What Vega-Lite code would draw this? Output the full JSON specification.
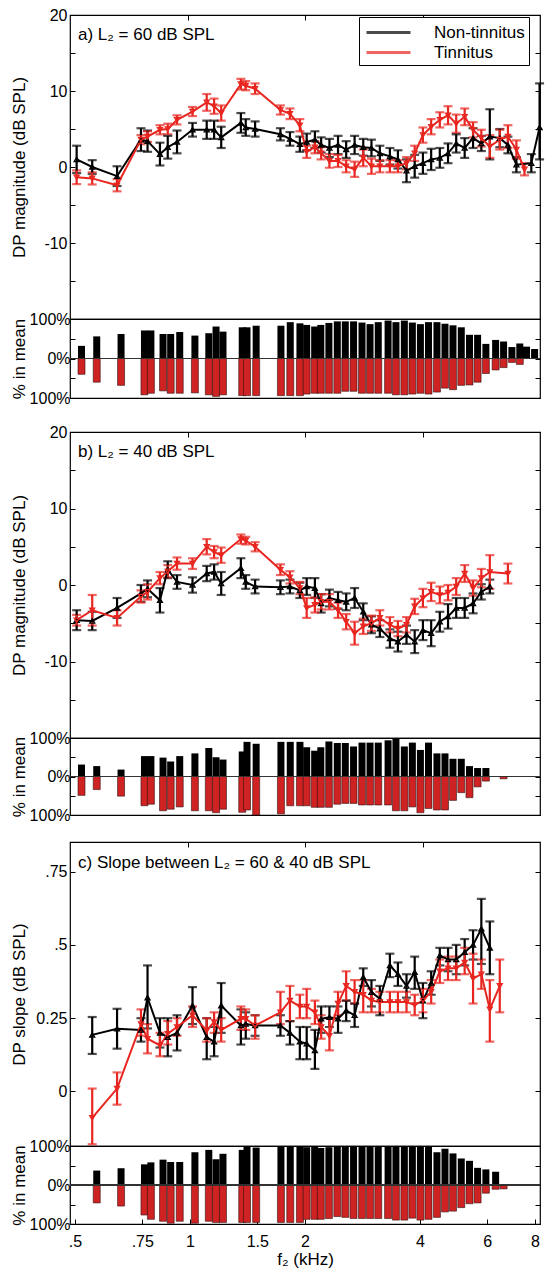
{
"$schema": "https://vega.github.io/schema/vega-lite/v6.json",
"padding": {"left": 9, "top": 6, "right": 0, "bottom": 0},
"spacing": 16,
"resolve": {"scale": {"color": "independent"}, "legend": {"color": "independent"}},
"datasets": {
"main": [
{"p":"a","g":"N","f":0.52,"m":1.0,"lo":-0.8,"hi":2.8},{"p":"a","g":"N","f":0.57,"m":0.0,"lo":-0.9,"hi":0.9},{"p":"a","g":"N","f":0.66,"m":-1.2,"lo":-2.5,"hi":0.1},{"p":"a","g":"N","f":0.76,"m":3.6,"lo":2.1,"hi":5.1},{"p":"a","g":"N","f":0.79,"m":3.4,"lo":2.0,"hi":4.8},{"p":"a","g":"N","f":0.85,"m":1.7,"lo":0.2,"hi":3.2},{"p":"a","g":"N","f":0.89,"m":2.6,"lo":1.1,"hi":4.1},{"p":"a","g":"N","f":0.94,"m":3.3,"lo":1.8,"hi":4.8},{"p":"a","g":"N","f":1.03,"m":4.9,"lo":4.0,"hi":5.8},{"p":"a","g":"N","f":1.12,"m":4.9,"lo":3.7,"hi":6.1},{"p":"a","g":"N","f":1.17,"m":4.9,"lo":3.7,"hi":6.1},{"p":"a","g":"N","f":1.22,"m":3.9,"lo":2.5,"hi":5.3},{"p":"a","g":"N","f":1.37,"m":5.8,"lo":4.5,"hi":7.1},{"p":"a","g":"N","f":1.41,"m":5.2,"lo":4.1,"hi":6.3},{"p":"a","g":"N","f":1.49,"m":5.0,"lo":4.0,"hi":6.0},{"p":"a","g":"N","f":1.73,"m":4.3,"lo":3.5,"hi":5.1},{"p":"a","g":"N","f":1.83,"m":3.7,"lo":2.8,"hi":4.6},{"p":"a","g":"N","f":1.94,"m":3.0,"lo":2.0,"hi":4.0},{"p":"a","g":"N","f":2.02,"m":3.3,"lo":2.2,"hi":4.4},{"p":"a","g":"N","f":2.12,"m":3.6,"lo":2.5,"hi":4.7},{"p":"a","g":"N","f":2.2,"m":2.9,"lo":1.9,"hi":3.9},{"p":"a","g":"N","f":2.31,"m":2.5,"lo":1.3,"hi":3.7},{"p":"a","g":"N","f":2.43,"m":2.9,"lo":1.7,"hi":4.1},{"p":"a","g":"N","f":2.55,"m":2.3,"lo":1.2,"hi":3.4},{"p":"a","g":"N","f":2.68,"m":2.9,"lo":1.7,"hi":4.1},{"p":"a","g":"N","f":2.82,"m":2.6,"lo":1.5,"hi":3.7},{"p":"a","g":"N","f":2.96,"m":2.5,"lo":1.4,"hi":3.6},{"p":"a","g":"N","f":3.11,"m":1.8,"lo":0.8,"hi":2.8},{"p":"a","g":"N","f":3.3,"m":1.4,"lo":0.3,"hi":2.5},{"p":"a","g":"N","f":3.46,"m":1.0,"lo":-0.2,"hi":2.2},{"p":"a","g":"N","f":3.64,"m":-0.5,"lo":-2.0,"hi":1.0},{"p":"a","g":"N","f":3.82,"m":0.1,"lo":-1.4,"hi":1.6},{"p":"a","g":"N","f":4.01,"m":0.5,"lo":-0.9,"hi":1.9},{"p":"a","g":"N","f":4.21,"m":1.0,"lo":-0.4,"hi":2.4},{"p":"a","g":"N","f":4.43,"m":1.2,"lo":-0.1,"hi":2.5},{"p":"a","g":"N","f":4.65,"m":1.8,"lo":0.5,"hi":3.1},{"p":"a","g":"N","f":4.88,"m":3.1,"lo":1.9,"hi":4.3},{"p":"a","g":"N","f":5.13,"m":2.5,"lo":1.2,"hi":3.8},{"p":"a","g":"N","f":5.39,"m":3.8,"lo":2.5,"hi":5.1},{"p":"a","g":"N","f":5.66,"m":3.1,"lo":2.1,"hi":4.1},{"p":"a","g":"N","f":5.95,"m":4.0,"lo":1.0,"hi":7.6},{"p":"a","g":"N","f":6.31,"m":3.8,"lo":2.6,"hi":5.0},{"p":"a","g":"N","f":6.62,"m":2.9,"lo":1.8,"hi":4.0},{"p":"a","g":"N","f":6.96,"m":0.3,"lo":-0.7,"hi":1.3},{"p":"a","g":"N","f":7.6,"m":0.5,"lo":-0.7,"hi":1.7},{"p":"a","g":"N","f":7.98,"m":5.2,"lo":1.0,"hi":11.0},
{"p":"a","g":"T","f":0.52,"m":-1.35,"lo":-2.25,"hi":-0.45},{"p":"a","g":"T","f":0.57,"m":-1.5,"lo":-2.3,"hi":-0.7},{"p":"a","g":"T","f":0.66,"m":-2.4,"lo":-3.2,"hi":-1.6},{"p":"a","g":"T","f":0.76,"m":3.6,"lo":3.0,"hi":4.2},{"p":"a","g":"T","f":0.79,"m":4.0,"lo":3.3,"hi":4.7},{"p":"a","g":"T","f":0.85,"m":4.9,"lo":4.3,"hi":5.5},{"p":"a","g":"T","f":0.89,"m":5.0,"lo":4.3,"hi":5.7},{"p":"a","g":"T","f":0.94,"m":6.2,"lo":5.6,"hi":6.8},{"p":"a","g":"T","f":1.03,"m":7.3,"lo":6.7,"hi":7.9},{"p":"a","g":"T","f":1.12,"m":8.5,"lo":7.4,"hi":9.6},{"p":"a","g":"T","f":1.17,"m":8.0,"lo":7.0,"hi":9.0},{"p":"a","g":"T","f":1.22,"m":7.1,"lo":6.1,"hi":8.1},{"p":"a","g":"T","f":1.37,"m":10.9,"lo":10.2,"hi":11.6},{"p":"a","g":"T","f":1.41,"m":10.7,"lo":10.1,"hi":11.3},{"p":"a","g":"T","f":1.49,"m":10.3,"lo":9.6,"hi":11.0},{"p":"a","g":"T","f":1.73,"m":7.5,"lo":6.9,"hi":8.1},{"p":"a","g":"T","f":1.83,"m":7.0,"lo":6.3,"hi":7.7},{"p":"a","g":"T","f":1.94,"m":5.5,"lo":4.7,"hi":6.3},{"p":"a","g":"T","f":2.02,"m":2.0,"lo":1.2,"hi":2.8},{"p":"a","g":"T","f":2.12,"m":2.6,"lo":1.8,"hi":3.4},{"p":"a","g":"T","f":2.2,"m":1.8,"lo":1.0,"hi":2.6},{"p":"a","g":"T","f":2.31,"m":0.8,"lo":-0.1,"hi":1.7},{"p":"a","g":"T","f":2.43,"m":0.8,"lo":0.0,"hi":1.6},{"p":"a","g":"T","f":2.55,"m":0.1,"lo":-0.7,"hi":0.9},{"p":"a","g":"T","f":2.68,"m":-0.3,"lo":-1.3,"hi":0.7},{"p":"a","g":"T","f":2.82,"m":1.2,"lo":0.1,"hi":2.3},{"p":"a","g":"T","f":2.96,"m":0.1,"lo":-0.9,"hi":1.1},{"p":"a","g":"T","f":3.11,"m":0.1,"lo":-0.7,"hi":0.9},{"p":"a","g":"T","f":3.3,"m":0.1,"lo":-0.7,"hi":0.9},{"p":"a","g":"T","f":3.46,"m":0.1,"lo":-0.7,"hi":0.9},{"p":"a","g":"T","f":3.64,"m":0.5,"lo":-0.3,"hi":1.3},{"p":"a","g":"T","f":3.82,"m":1.8,"lo":0.8,"hi":2.8},{"p":"a","g":"T","f":4.01,"m":4.2,"lo":3.2,"hi":5.2},{"p":"a","g":"T","f":4.21,"m":5.3,"lo":4.3,"hi":6.3},{"p":"a","g":"T","f":4.43,"m":6.2,"lo":5.2,"hi":7.2},{"p":"a","g":"T","f":4.65,"m":6.8,"lo":5.6,"hi":8.0},{"p":"a","g":"T","f":4.88,"m":5.7,"lo":4.5,"hi":6.9},{"p":"a","g":"T","f":5.13,"m":6.6,"lo":5.5,"hi":7.7},{"p":"a","g":"T","f":5.39,"m":4.9,"lo":3.9,"hi":5.9},{"p":"a","g":"T","f":5.66,"m":3.8,"lo":2.7,"hi":4.9},{"p":"a","g":"T","f":5.95,"m":2.7,"lo":1.2,"hi":4.2},{"p":"a","g":"T","f":6.31,"m":3.6,"lo":2.3,"hi":4.9},{"p":"a","g":"T","f":6.62,"m":4.0,"lo":2.5,"hi":5.5},{"p":"a","g":"T","f":6.96,"m":2.3,"lo":1.1,"hi":3.5},{"p":"a","g":"T","f":7.3,"m":-0.3,"lo":-1.1,"hi":0.5},
{"p":"b","g":"N","f":0.52,"m":-4.6,"lo":-5.9,"hi":-3.3},{"p":"b","g":"N","f":0.57,"m":-4.7,"lo":-5.9,"hi":-3.5},{"p":"b","g":"N","f":0.66,"m":-3.0,"lo":-4.3,"hi":-1.7},{"p":"b","g":"N","f":0.76,"m":-1.1,"lo":-2.2,"hi":0.0},{"p":"b","g":"N","f":0.79,"m":-0.5,"lo":-1.6,"hi":0.6},{"p":"b","g":"N","f":0.85,"m":-2.0,"lo":-3.6,"hi":-0.4},{"p":"b","g":"N","f":0.89,"m":2.0,"lo":0.9,"hi":3.1},{"p":"b","g":"N","f":0.94,"m":0.4,"lo":-0.5,"hi":1.3},{"p":"b","g":"N","f":1.03,"m":0.0,"lo":-1.0,"hi":1.0},{"p":"b","g":"N","f":1.12,"m":1.5,"lo":0.5,"hi":2.5},{"p":"b","g":"N","f":1.17,"m":1.7,"lo":0.7,"hi":2.7},{"p":"b","g":"N","f":1.22,"m":0.2,"lo":-1.3,"hi":1.7},{"p":"b","g":"N","f":1.37,"m":2.2,"lo":0.9,"hi":3.5},{"p":"b","g":"N","f":1.41,"m":0.4,"lo":-0.5,"hi":1.3},{"p":"b","g":"N","f":1.49,"m":-0.2,"lo":-1.1,"hi":0.7},{"p":"b","g":"N","f":1.73,"m":-0.3,"lo":-1.2,"hi":0.6},{"p":"b","g":"N","f":1.83,"m":-0.2,"lo":-1.1,"hi":0.7},{"p":"b","g":"N","f":1.94,"m":-0.7,"lo":-1.7,"hi":0.3},{"p":"b","g":"N","f":2.02,"m":-0.2,"lo":-1.3,"hi":0.9},{"p":"b","g":"N","f":2.12,"m":-0.4,"lo":-1.7,"hi":0.9},{"p":"b","g":"N","f":2.2,"m":-2.4,"lo":-3.6,"hi":-1.2},{"p":"b","g":"N","f":2.31,"m":-1.7,"lo":-2.8,"hi":-0.6},{"p":"b","g":"N","f":2.43,"m":-2.0,"lo":-3.1,"hi":-0.9},{"p":"b","g":"N","f":2.55,"m":-2.2,"lo":-3.3,"hi":-1.1},{"p":"b","g":"N","f":2.68,"m":-1.7,"lo":-3.0,"hi":-0.4},{"p":"b","g":"N","f":2.82,"m":-3.5,"lo":-4.6,"hi":-2.4},{"p":"b","g":"N","f":2.96,"m":-5.2,"lo":-6.3,"hi":-4.1},{"p":"b","g":"N","f":3.11,"m":-5.7,"lo":-6.8,"hi":-4.6},{"p":"b","g":"N","f":3.3,"m":-7.0,"lo":-8.2,"hi":-5.8},{"p":"b","g":"N","f":3.46,"m":-7.4,"lo":-8.7,"hi":-6.1},{"p":"b","g":"N","f":3.64,"m":-6.5,"lo":-7.7,"hi":-5.3},{"p":"b","g":"N","f":3.82,"m":-7.4,"lo":-8.9,"hi":-5.9},{"p":"b","g":"N","f":4.01,"m":-5.9,"lo":-7.2,"hi":-4.6},{"p":"b","g":"N","f":4.21,"m":-6.3,"lo":-8.0,"hi":-4.6},{"p":"b","g":"N","f":4.43,"m":-4.8,"lo":-6.1,"hi":-3.5},{"p":"b","g":"N","f":4.65,"m":-4.1,"lo":-5.7,"hi":-2.5},{"p":"b","g":"N","f":4.88,"m":-3.0,"lo":-4.3,"hi":-1.7},{"p":"b","g":"N","f":5.13,"m":-3.0,"lo":-4.3,"hi":-1.7},{"p":"b","g":"N","f":5.39,"m":-2.4,"lo":-3.7,"hi":-1.1},{"p":"b","g":"N","f":5.66,"m":-0.9,"lo":-1.9,"hi":0.1},{"p":"b","g":"N","f":5.95,"m":-0.2,"lo":-1.1,"hi":0.7},
{"p":"b","g":"T","f":0.52,"m":-4.6,"lo":-5.3,"hi":-3.9},{"p":"b","g":"T","f":0.57,"m":-3.3,"lo":-5.3,"hi":-1.3},{"p":"b","g":"T","f":0.66,"m":-4.3,"lo":-5.3,"hi":-3.3},{"p":"b","g":"T","f":0.76,"m":-1.5,"lo":-2.3,"hi":-0.7},{"p":"b","g":"T","f":0.79,"m":-0.9,"lo":-1.9,"hi":0.1},{"p":"b","g":"T","f":0.85,"m":0.9,"lo":0.1,"hi":1.7},{"p":"b","g":"T","f":0.89,"m":1.8,"lo":1.0,"hi":2.6},{"p":"b","g":"T","f":0.94,"m":2.8,"lo":2.0,"hi":3.6},{"p":"b","g":"T","f":1.03,"m":2.8,"lo":2.1,"hi":3.5},{"p":"b","g":"T","f":1.12,"m":5.0,"lo":4.0,"hi":6.0},{"p":"b","g":"T","f":1.17,"m":4.3,"lo":3.5,"hi":5.1},{"p":"b","g":"T","f":1.22,"m":3.9,"lo":2.9,"hi":4.9},{"p":"b","g":"T","f":1.37,"m":6.0,"lo":5.4,"hi":6.6},{"p":"b","g":"T","f":1.41,"m":5.8,"lo":5.3,"hi":6.3},{"p":"b","g":"T","f":1.49,"m":5.0,"lo":4.4,"hi":5.6},{"p":"b","g":"T","f":1.73,"m":2.0,"lo":1.3,"hi":2.7},{"p":"b","g":"T","f":1.83,"m":1.0,"lo":0.2,"hi":1.8},{"p":"b","g":"T","f":1.94,"m":-0.4,"lo":-1.2,"hi":0.4},{"p":"b","g":"T","f":2.02,"m":-3.0,"lo":-4.3,"hi":-1.7},{"p":"b","g":"T","f":2.12,"m":-2.6,"lo":-3.6,"hi":-1.6},{"p":"b","g":"T","f":2.2,"m":-2.2,"lo":-3.2,"hi":-1.2},{"p":"b","g":"T","f":2.31,"m":-2.2,"lo":-3.2,"hi":-1.2},{"p":"b","g":"T","f":2.43,"m":-3.3,"lo":-4.3,"hi":-2.3},{"p":"b","g":"T","f":2.55,"m":-4.8,"lo":-5.8,"hi":-3.8},{"p":"b","g":"T","f":2.68,"m":-6.3,"lo":-7.8,"hi":-4.8},{"p":"b","g":"T","f":2.82,"m":-5.4,"lo":-6.4,"hi":-4.4},{"p":"b","g":"T","f":2.96,"m":-5.0,"lo":-6.0,"hi":-4.0},{"p":"b","g":"T","f":3.11,"m":-4.3,"lo":-5.3,"hi":-3.3},{"p":"b","g":"T","f":3.3,"m":-5.2,"lo":-6.2,"hi":-4.2},{"p":"b","g":"T","f":3.46,"m":-5.7,"lo":-6.7,"hi":-4.7},{"p":"b","g":"T","f":3.64,"m":-5.2,"lo":-6.2,"hi":-4.2},{"p":"b","g":"T","f":3.82,"m":-2.8,"lo":-3.8,"hi":-1.8},{"p":"b","g":"T","f":4.01,"m":-1.7,"lo":-2.9,"hi":-0.5},{"p":"b","g":"T","f":4.21,"m":-0.9,"lo":-2.1,"hi":0.3},{"p":"b","g":"T","f":4.43,"m":-1.3,"lo":-2.4,"hi":-0.2},{"p":"b","g":"T","f":4.65,"m":-1.0,"lo":-2.0,"hi":0.0},{"p":"b","g":"T","f":4.88,"m":-0.2,"lo":-1.3,"hi":0.9},{"p":"b","g":"T","f":5.13,"m":1.5,"lo":0.4,"hi":2.6},{"p":"b","g":"T","f":5.39,"m":-0.4,"lo":-1.4,"hi":0.6},{"p":"b","g":"T","f":5.66,"m":0.9,"lo":-0.3,"hi":2.1},{"p":"b","g":"T","f":5.95,"m":1.7,"lo":-0.5,"hi":3.9},{"p":"b","g":"T","f":6.62,"m":1.5,"lo":0.2,"hi":2.8},
{"p":"c","g":"N","f":0.57,"m":0.193,"lo":0.128,"hi":0.254},{"p":"c","g":"N","f":0.66,"m":0.214,"lo":0.146,"hi":0.282},{"p":"c","g":"N","f":0.76,"m":0.21,"lo":0.17,"hi":0.25},{"p":"c","g":"N","f":0.79,"m":0.32,"lo":0.215,"hi":0.43},{"p":"c","g":"N","f":0.85,"m":0.2,"lo":0.15,"hi":0.25},{"p":"c","g":"N","f":0.89,"m":0.185,"lo":0.12,"hi":0.25},{"p":"c","g":"N","f":0.94,"m":0.2,"lo":0.14,"hi":0.26},{"p":"c","g":"N","f":1.03,"m":0.293,"lo":0.23,"hi":0.356},{"p":"c","g":"N","f":1.12,"m":0.185,"lo":0.11,"hi":0.25},{"p":"c","g":"N","f":1.17,"m":0.17,"lo":0.12,"hi":0.22},{"p":"c","g":"N","f":1.22,"m":0.293,"lo":0.2,"hi":0.37},{"p":"c","g":"N","f":1.37,"m":0.225,"lo":0.16,"hi":0.28},{"p":"c","g":"N","f":1.41,"m":0.23,"lo":0.18,"hi":0.27},{"p":"c","g":"N","f":1.49,"m":0.225,"lo":0.19,"hi":0.26},{"p":"c","g":"N","f":1.73,"m":0.225,"lo":0.19,"hi":0.26},{"p":"c","g":"N","f":1.83,"m":0.2,"lo":0.16,"hi":0.24},{"p":"c","g":"N","f":1.94,"m":0.17,"lo":0.11,"hi":0.22},{"p":"c","g":"N","f":2.02,"m":0.163,"lo":0.11,"hi":0.22},{"p":"c","g":"N","f":2.12,"m":0.14,"lo":0.077,"hi":0.21},{"p":"c","g":"N","f":2.2,"m":0.248,"lo":0.2,"hi":0.29},{"p":"c","g":"N","f":2.31,"m":0.253,"lo":0.22,"hi":0.29},{"p":"c","g":"N","f":2.43,"m":0.248,"lo":0.2,"hi":0.29},{"p":"c","g":"N","f":2.55,"m":0.276,"lo":0.24,"hi":0.31},{"p":"c","g":"N","f":2.68,"m":0.26,"lo":0.22,"hi":0.3},{"p":"c","g":"N","f":2.82,"m":0.39,"lo":0.36,"hi":0.42},{"p":"c","g":"N","f":2.96,"m":0.339,"lo":0.29,"hi":0.38},{"p":"c","g":"N","f":3.11,"m":0.316,"lo":0.26,"hi":0.36},{"p":"c","g":"N","f":3.3,"m":0.43,"lo":0.39,"hi":0.47},{"p":"c","g":"N","f":3.46,"m":0.4,"lo":0.36,"hi":0.44},{"p":"c","g":"N","f":3.64,"m":0.36,"lo":0.32,"hi":0.4},{"p":"c","g":"N","f":3.82,"m":0.407,"lo":0.35,"hi":0.46},{"p":"c","g":"N","f":4.01,"m":0.31,"lo":0.25,"hi":0.37},{"p":"c","g":"N","f":4.21,"m":0.37,"lo":0.33,"hi":0.41},{"p":"c","g":"N","f":4.43,"m":0.464,"lo":0.43,"hi":0.49},{"p":"c","g":"N","f":4.65,"m":0.45,"lo":0.41,"hi":0.49},{"p":"c","g":"N","f":4.88,"m":0.45,"lo":0.4,"hi":0.5},{"p":"c","g":"N","f":5.13,"m":0.475,"lo":0.43,"hi":0.52},{"p":"c","g":"N","f":5.39,"m":0.5,"lo":0.45,"hi":0.55},{"p":"c","g":"N","f":5.66,"m":0.555,"lo":0.435,"hi":0.657},{"p":"c","g":"N","f":5.95,"m":0.49,"lo":0.4,"hi":0.58},
{"p":"c","g":"T","f":0.57,"m":-0.09,"lo":-0.18,"hi":0.01},{"p":"c","g":"T","f":0.66,"m":0.01,"lo":-0.045,"hi":0.065},{"p":"c","g":"T","f":0.76,"m":0.23,"lo":0.19,"hi":0.28},{"p":"c","g":"T","f":0.79,"m":0.18,"lo":0.13,"hi":0.23},{"p":"c","g":"T","f":0.85,"m":0.157,"lo":0.12,"hi":0.2},{"p":"c","g":"T","f":0.89,"m":0.197,"lo":0.16,"hi":0.24},{"p":"c","g":"T","f":0.94,"m":0.22,"lo":0.19,"hi":0.25},{"p":"c","g":"T","f":1.03,"m":0.26,"lo":0.22,"hi":0.29},{"p":"c","g":"T","f":1.12,"m":0.208,"lo":0.17,"hi":0.25},{"p":"c","g":"T","f":1.17,"m":0.237,"lo":0.2,"hi":0.27},{"p":"c","g":"T","f":1.22,"m":0.21,"lo":0.17,"hi":0.25},{"p":"c","g":"T","f":1.37,"m":0.248,"lo":0.21,"hi":0.29},{"p":"c","g":"T","f":1.41,"m":0.248,"lo":0.21,"hi":0.28},{"p":"c","g":"T","f":1.49,"m":0.225,"lo":0.18,"hi":0.26},{"p":"c","g":"T","f":1.73,"m":0.27,"lo":0.23,"hi":0.34},{"p":"c","g":"T","f":1.83,"m":0.31,"lo":0.24,"hi":0.36},{"p":"c","g":"T","f":1.94,"m":0.29,"lo":0.25,"hi":0.33},{"p":"c","g":"T","f":2.02,"m":0.29,"lo":0.25,"hi":0.35},{"p":"c","g":"T","f":2.12,"m":0.27,"lo":0.23,"hi":0.31},{"p":"c","g":"T","f":2.2,"m":0.22,"lo":0.18,"hi":0.26},{"p":"c","g":"T","f":2.31,"m":0.19,"lo":0.14,"hi":0.25},{"p":"c","g":"T","f":2.43,"m":0.3,"lo":0.26,"hi":0.34},{"p":"c","g":"T","f":2.55,"m":0.36,"lo":0.31,"hi":0.41},{"p":"c","g":"T","f":2.68,"m":0.34,"lo":0.3,"hi":0.38},{"p":"c","g":"T","f":2.82,"m":0.33,"lo":0.27,"hi":0.38},{"p":"c","g":"T","f":2.96,"m":0.31,"lo":0.27,"hi":0.35},{"p":"c","g":"T","f":3.11,"m":0.305,"lo":0.27,"hi":0.34},{"p":"c","g":"T","f":3.3,"m":0.305,"lo":0.27,"hi":0.34},{"p":"c","g":"T","f":3.46,"m":0.305,"lo":0.27,"hi":0.34},{"p":"c","g":"T","f":3.64,"m":0.305,"lo":0.27,"hi":0.34},{"p":"c","g":"T","f":3.82,"m":0.295,"lo":0.26,"hi":0.33},{"p":"c","g":"T","f":4.01,"m":0.31,"lo":0.27,"hi":0.35},{"p":"c","g":"T","f":4.21,"m":0.34,"lo":0.3,"hi":0.38},{"p":"c","g":"T","f":4.43,"m":0.41,"lo":0.37,"hi":0.45},{"p":"c","g":"T","f":4.65,"m":0.42,"lo":0.38,"hi":0.46},{"p":"c","g":"T","f":4.88,"m":0.42,"lo":0.38,"hi":0.46},{"p":"c","g":"T","f":5.13,"m":0.44,"lo":0.4,"hi":0.49},{"p":"c","g":"T","f":5.39,"m":0.385,"lo":0.3,"hi":0.47},{"p":"c","g":"T","f":5.66,"m":0.4,"lo":0.35,"hi":0.45},{"p":"c","g":"T","f":5.95,"m":0.28,"lo":0.17,"hi":0.38},{"p":"c","g":"T","f":6.31,"m":0.36,"lo":0.27,"hi":0.45}
],
"bars": [
{"p":"a","g":"N","f":0.52,"v":32},{"p":"a","g":"N","f":0.57,"v":56},{"p":"a","g":"N","f":0.66,"v":62},{"p":"a","g":"N","f":0.76,"v":71},{"p":"a","g":"N","f":0.79,"v":71},{"p":"a","g":"N","f":0.85,"v":62},{"p":"a","g":"N","f":0.89,"v":62},{"p":"a","g":"N","f":0.94,"v":67},{"p":"a","g":"N","f":1.03,"v":58},{"p":"a","g":"N","f":1.12,"v":64},{"p":"a","g":"N","f":1.17,"v":81},{"p":"a","g":"N","f":1.22,"v":68},{"p":"a","g":"N","f":1.37,"v":79},{"p":"a","g":"N","f":1.41,"v":79},{"p":"a","g":"N","f":1.49,"v":83},{"p":"a","g":"N","f":1.73,"v":83},{"p":"a","g":"N","f":1.83,"v":92},{"p":"a","g":"N","f":1.94,"v":89},{"p":"a","g":"N","f":2.02,"v":85},{"p":"a","g":"N","f":2.12,"v":81},{"p":"a","g":"N","f":2.2,"v":85},{"p":"a","g":"N","f":2.31,"v":90},{"p":"a","g":"N","f":2.43,"v":94},{"p":"a","g":"N","f":2.55,"v":94},{"p":"a","g":"N","f":2.68,"v":94},{"p":"a","g":"N","f":2.82,"v":91},{"p":"a","g":"N","f":2.96,"v":87},{"p":"a","g":"N","f":3.11,"v":92},{"p":"a","g":"N","f":3.3,"v":96},{"p":"a","g":"N","f":3.46,"v":92},{"p":"a","g":"N","f":3.64,"v":96},{"p":"a","g":"N","f":3.82,"v":91},{"p":"a","g":"N","f":4.01,"v":87},{"p":"a","g":"N","f":4.21,"v":92},{"p":"a","g":"N","f":4.43,"v":92},{"p":"a","g":"N","f":4.65,"v":88},{"p":"a","g":"N","f":4.88,"v":84},{"p":"a","g":"N","f":5.13,"v":79},{"p":"a","g":"N","f":5.39,"v":60},{"p":"a","g":"N","f":5.66,"v":60},{"p":"a","g":"N","f":5.95,"v":37},{"p":"a","g":"N","f":6.31,"v":47},{"p":"a","g":"N","f":6.62,"v":43},{"p":"a","g":"N","f":6.96,"v":29},{"p":"a","g":"N","f":7.3,"v":38},{"p":"a","g":"N","f":7.6,"v":30},{"p":"a","g":"N","f":7.98,"v":24},
{"p":"a","g":"T","f":0.52,"v":-40},{"p":"a","g":"T","f":0.57,"v":-60},{"p":"a","g":"T","f":0.66,"v":-68},{"p":"a","g":"T","f":0.76,"v":-92},{"p":"a","g":"T","f":0.79,"v":-88},{"p":"a","g":"T","f":0.85,"v":-82},{"p":"a","g":"T","f":0.89,"v":-88},{"p":"a","g":"T","f":0.94,"v":-88},{"p":"a","g":"T","f":1.03,"v":-87},{"p":"a","g":"T","f":1.12,"v":-92},{"p":"a","g":"T","f":1.17,"v":-96},{"p":"a","g":"T","f":1.22,"v":-92},{"p":"a","g":"T","f":1.37,"v":-94},{"p":"a","g":"T","f":1.41,"v":-94},{"p":"a","g":"T","f":1.49,"v":-94},{"p":"a","g":"T","f":1.73,"v":-94},{"p":"a","g":"T","f":1.83,"v":-94},{"p":"a","g":"T","f":1.94,"v":-94},{"p":"a","g":"T","f":2.02,"v":-90},{"p":"a","g":"T","f":2.12,"v":-88},{"p":"a","g":"T","f":2.2,"v":-88},{"p":"a","g":"T","f":2.31,"v":-88},{"p":"a","g":"T","f":2.43,"v":-88},{"p":"a","g":"T","f":2.55,"v":-83},{"p":"a","g":"T","f":2.68,"v":-83},{"p":"a","g":"T","f":2.82,"v":-88},{"p":"a","g":"T","f":2.96,"v":-88},{"p":"a","g":"T","f":3.11,"v":-88},{"p":"a","g":"T","f":3.3,"v":-88},{"p":"a","g":"T","f":3.46,"v":-92},{"p":"a","g":"T","f":3.64,"v":-92},{"p":"a","g":"T","f":3.82,"v":-90},{"p":"a","g":"T","f":4.01,"v":-88},{"p":"a","g":"T","f":4.21,"v":-90},{"p":"a","g":"T","f":4.43,"v":-85},{"p":"a","g":"T","f":4.65,"v":-75},{"p":"a","g":"T","f":4.88,"v":-79},{"p":"a","g":"T","f":5.13,"v":-68},{"p":"a","g":"T","f":5.39,"v":-67},{"p":"a","g":"T","f":5.66,"v":-60},{"p":"a","g":"T","f":5.95,"v":-38},{"p":"a","g":"T","f":6.31,"v":-29},{"p":"a","g":"T","f":6.62,"v":-23},{"p":"a","g":"T","f":6.96,"v":-10},{"p":"a","g":"T","f":7.3,"v":-15},
{"p":"b","g":"N","f":0.52,"v":31},{"p":"b","g":"N","f":0.57,"v":27},{"p":"b","g":"N","f":0.66,"v":18},{"p":"b","g":"N","f":0.76,"v":53},{"p":"b","g":"N","f":0.79,"v":53},{"p":"b","g":"N","f":0.85,"v":49},{"p":"b","g":"N","f":0.89,"v":39},{"p":"b","g":"N","f":0.94,"v":53},{"p":"b","g":"N","f":1.03,"v":60},{"p":"b","g":"N","f":1.12,"v":74},{"p":"b","g":"N","f":1.17,"v":50},{"p":"b","g":"N","f":1.22,"v":44},{"p":"b","g":"N","f":1.37,"v":65},{"p":"b","g":"N","f":1.41,"v":90},{"p":"b","g":"N","f":1.49,"v":85},{"p":"b","g":"N","f":1.73,"v":90},{"p":"b","g":"N","f":1.83,"v":90},{"p":"b","g":"N","f":1.94,"v":90},{"p":"b","g":"N","f":2.02,"v":76},{"p":"b","g":"N","f":2.12,"v":67},{"p":"b","g":"N","f":2.2,"v":76},{"p":"b","g":"N","f":2.31,"v":91},{"p":"b","g":"N","f":2.43,"v":87},{"p":"b","g":"N","f":2.55,"v":87},{"p":"b","g":"N","f":2.68,"v":78},{"p":"b","g":"N","f":2.82,"v":88},{"p":"b","g":"N","f":2.96,"v":88},{"p":"b","g":"N","f":3.11,"v":88},{"p":"b","g":"N","f":3.3,"v":94},{"p":"b","g":"N","f":3.46,"v":98},{"p":"b","g":"N","f":3.64,"v":78},{"p":"b","g":"N","f":3.82,"v":88},{"p":"b","g":"N","f":4.01,"v":69},{"p":"b","g":"N","f":4.21,"v":88},{"p":"b","g":"N","f":4.43,"v":60},{"p":"b","g":"N","f":4.65,"v":60},{"p":"b","g":"N","f":4.88,"v":46},{"p":"b","g":"N","f":5.13,"v":46},{"p":"b","g":"N","f":5.39,"v":27},{"p":"b","g":"N","f":5.66,"v":22},{"p":"b","g":"N","f":5.95,"v":22},
{"p":"b","g":"T","f":0.52,"v":-49},{"p":"b","g":"T","f":0.57,"v":-34},{"p":"b","g":"T","f":0.66,"v":-51},{"p":"b","g":"T","f":0.76,"v":-76},{"p":"b","g":"T","f":0.79,"v":-72},{"p":"b","g":"T","f":0.85,"v":-89},{"p":"b","g":"T","f":0.89,"v":-85},{"p":"b","g":"T","f":0.94,"v":-79},{"p":"b","g":"T","f":1.03,"v":-89},{"p":"b","g":"T","f":1.12,"v":-89},{"p":"b","g":"T","f":1.17,"v":-94},{"p":"b","g":"T","f":1.22,"v":-85},{"p":"b","g":"T","f":1.37,"v":-93},{"p":"b","g":"T","f":1.41,"v":-87},{"p":"b","g":"T","f":1.49,"v":-100},{"p":"b","g":"T","f":1.73,"v":-97},{"p":"b","g":"T","f":1.83,"v":-76},{"p":"b","g":"T","f":1.94,"v":-76},{"p":"b","g":"T","f":2.02,"v":-76},{"p":"b","g":"T","f":2.12,"v":-80},{"p":"b","g":"T","f":2.2,"v":-80},{"p":"b","g":"T","f":2.31,"v":-80},{"p":"b","g":"T","f":2.43,"v":-72},{"p":"b","g":"T","f":2.55,"v":-70},{"p":"b","g":"T","f":2.68,"v":-70},{"p":"b","g":"T","f":2.82,"v":-74},{"p":"b","g":"T","f":2.96,"v":-74},{"p":"b","g":"T","f":3.11,"v":-74},{"p":"b","g":"T","f":3.3,"v":-74},{"p":"b","g":"T","f":3.46,"v":-89},{"p":"b","g":"T","f":3.64,"v":-89},{"p":"b","g":"T","f":3.82,"v":-79},{"p":"b","g":"T","f":4.01,"v":-94},{"p":"b","g":"T","f":4.21,"v":-83},{"p":"b","g":"T","f":4.43,"v":-87},{"p":"b","g":"T","f":4.65,"v":-87},{"p":"b","g":"T","f":4.88,"v":-62},{"p":"b","g":"T","f":5.13,"v":-42},{"p":"b","g":"T","f":5.39,"v":-55},{"p":"b","g":"T","f":5.66,"v":-27},{"p":"b","g":"T","f":5.95,"v":-12},{"p":"b","g":"T","f":6.62,"v":-6},
{"p":"c","g":"N","f":0.57,"v":37},{"p":"c","g":"N","f":0.66,"v":43},{"p":"c","g":"N","f":0.76,"v":53},{"p":"c","g":"N","f":0.79,"v":58},{"p":"c","g":"N","f":0.85,"v":65},{"p":"c","g":"N","f":0.89,"v":59},{"p":"c","g":"N","f":0.94,"v":59},{"p":"c","g":"N","f":1.03,"v":84},{"p":"c","g":"N","f":1.12,"v":90},{"p":"c","g":"N","f":1.17,"v":66},{"p":"c","g":"N","f":1.22,"v":80},{"p":"c","g":"N","f":1.37,"v":90},{"p":"c","g":"N","f":1.41,"v":99},{"p":"c","g":"N","f":1.49,"v":96},{"p":"c","g":"N","f":1.73,"v":100},{"p":"c","g":"N","f":1.83,"v":100},{"p":"c","g":"N","f":1.94,"v":100},{"p":"c","g":"N","f":2.02,"v":97},{"p":"c","g":"N","f":2.12,"v":100},{"p":"c","g":"N","f":2.2,"v":95},{"p":"c","g":"N","f":2.31,"v":97},{"p":"c","g":"N","f":2.43,"v":100},{"p":"c","g":"N","f":2.55,"v":100},{"p":"c","g":"N","f":2.68,"v":100},{"p":"c","g":"N","f":2.82,"v":100},{"p":"c","g":"N","f":2.96,"v":100},{"p":"c","g":"N","f":3.11,"v":100},{"p":"c","g":"N","f":3.3,"v":100},{"p":"c","g":"N","f":3.46,"v":100},{"p":"c","g":"N","f":3.64,"v":100},{"p":"c","g":"N","f":3.82,"v":100},{"p":"c","g":"N","f":4.01,"v":100},{"p":"c","g":"N","f":4.21,"v":99},{"p":"c","g":"N","f":4.43,"v":84},{"p":"c","g":"N","f":4.65,"v":93},{"p":"c","g":"N","f":4.88,"v":81},{"p":"c","g":"N","f":5.13,"v":68},{"p":"c","g":"N","f":5.39,"v":62},{"p":"c","g":"N","f":5.66,"v":44},{"p":"c","g":"N","f":5.95,"v":40},{"p":"c","g":"N","f":6.31,"v":34},
{"p":"c","g":"T","f":0.57,"v":-46},{"p":"c","g":"T","f":0.66,"v":-54},{"p":"c","g":"T","f":0.76,"v":-77},{"p":"c","g":"T","f":0.79,"v":-88},{"p":"c","g":"T","f":0.85,"v":-93},{"p":"c","g":"T","f":0.89,"v":-98},{"p":"c","g":"T","f":0.94,"v":-93},{"p":"c","g":"T","f":1.03,"v":-98},{"p":"c","g":"T","f":1.12,"v":-93},{"p":"c","g":"T","f":1.17,"v":-96},{"p":"c","g":"T","f":1.22,"v":-96},{"p":"c","g":"T","f":1.37,"v":-96},{"p":"c","g":"T","f":1.41,"v":-96},{"p":"c","g":"T","f":1.49,"v":-96},{"p":"c","g":"T","f":1.73,"v":-96},{"p":"c","g":"T","f":1.83,"v":-96},{"p":"c","g":"T","f":1.94,"v":-96},{"p":"c","g":"T","f":2.02,"v":-88},{"p":"c","g":"T","f":2.12,"v":-88},{"p":"c","g":"T","f":2.2,"v":-88},{"p":"c","g":"T","f":2.31,"v":-86},{"p":"c","g":"T","f":2.43,"v":-81},{"p":"c","g":"T","f":2.55,"v":-83},{"p":"c","g":"T","f":2.68,"v":-86},{"p":"c","g":"T","f":2.82,"v":-86},{"p":"c","g":"T","f":2.96,"v":-86},{"p":"c","g":"T","f":3.11,"v":-86},{"p":"c","g":"T","f":3.3,"v":-86},{"p":"c","g":"T","f":3.46,"v":-90},{"p":"c","g":"T","f":3.64,"v":-90},{"p":"c","g":"T","f":3.82,"v":-85},{"p":"c","g":"T","f":4.01,"v":-90},{"p":"c","g":"T","f":4.21,"v":-88},{"p":"c","g":"T","f":4.43,"v":-83},{"p":"c","g":"T","f":4.65,"v":-69},{"p":"c","g":"T","f":4.88,"v":-67},{"p":"c","g":"T","f":5.13,"v":-58},{"p":"c","g":"T","f":5.39,"v":-48},{"p":"c","g":"T","f":5.66,"v":-46},{"p":"c","g":"T","f":5.95,"v":-21},{"p":"c","g":"T","f":6.31,"v":-11},{"p":"c","g":"T","f":6.62,"v":-10}
]
},
"vconcat": [
{
"spacing": 0, "bounds": "flush",
"resolve": {"scale": {"color": "independent"}, "legend": {"color": "independent"}},
"vconcat": [
{
"width": 470, "height": 304,
"data": {"name": "main"},
"transform": [{"filter": "datum.p == 'a'"}],
"title": {"text": "a) L₂ = 60 dB SPL", "offset": -37},
"encoding": {
"x": {"field": "f", "type": "quantitative", "scale": {"type": "log", "domain": [0.5, 8]}, "axis": {"orient": "top", "values": [1, 2, 4], "labels": false, "title": null, "tickSize": -5, "minExtent": 0, "maxExtent": 0}}
},
"layer": [
{"mark": {"type": "errorbar", "ticks": {"size": 9, "thickness": 2.2}, "thickness": 2.2},
"encoding": {"y": {"field": "lo", "type": "quantitative", "scale": {"domain": [-20, 20]}, "axis": {"orient": "left", "values": [-15, -10, -5, 0, 5, 10, 15, 20], "labelExpr": "datum.value % 10 == 0 && datum.value > -20 ? '' + datum.value : ''", "title": "DP magnitude (dB SPL)", "tickSize": -5, "labelPadding": 8, "minExtent": 38, "maxExtent": 38, "titlePadding": 4}}, "y2": {"field": "hi"},
"color": {"field": "g", "type": "nominal", "scale": {"domain": ["N", "T"], "range": ["#000000", "#e8251f"]},
"legend": {"orient": "none", "legendX": 289, "legendY": 2, "title": null, "symbolType": "M-2.2,0H2.2", "symbolSize": 400, "symbolStrokeWidth": 3, "symbolOffset": 14, "labelFontSize": 17, "labelFont": "Liberation Sans", "labelColor": "#000", "labelOffset": 34, "strokeColor": "#000", "fillColor": "#ffffff", "padding": 4, "rowPadding": -1, "labelExpr": "datum.label == 'N' ? 'Non-tinnitus' : 'Tinnitus'"}}}},
{"mark": {"type": "line", "strokeWidth": 2},
"encoding": {"y": {"field": "m", "type": "quantitative", "scale": {"domain": [-20, 20]}, "axis": {"orient": "right", "values": [-15, -10, -5, 0, 5, 10, 15, 20], "labels": false, "title": null, "tickSize": -5, "minExtent": 0, "maxExtent": 0}},
"color": {"field": "g", "type": "nominal", "scale": {"domain": ["N", "T"], "range": ["#000000", "#e8251f"]},
"legend": {"orient": "none", "legendX": 289, "legendY": 2, "title": null, "symbolType": "M-2.2,0H2.2", "symbolSize": 400, "symbolStrokeWidth": 3, "symbolOffset": 14, "labelFontSize": 17, "labelFont": "Liberation Sans", "labelColor": "#000", "labelOffset": 34, "strokeColor": "#000", "fillColor": "#ffffff", "padding": 4, "rowPadding": -1, "labelExpr": "datum.label == 'N' ? 'Non-tinnitus' : 'Tinnitus'"}}}},
{"transform": [{"filter": "datum.g == 'N'"}], "mark": {"type": "point", "shape": "triangle-up", "size": 25, "strokeWidth": 1.3, "filled": false, "color": "#000000", "opacity": 1},
"encoding": {"y": {"field": "m", "type": "quantitative", "scale": {"domain": [-20, 20]}, "axis": null}}},
{"transform": [{"filter": "datum.g == 'T'"}], "mark": {"type": "point", "shape": "triangle-down", "size": 25, "strokeWidth": 1.3, "filled": false, "color": "#e8251f", "opacity": 1},
"encoding": {"y": {"field": "m", "type": "quantitative", "scale": {"domain": [-20, 20]}, "axis": null}}}
],
"resolve": {"axis": {"y": "independent"}}
},
{
"width": 470, "height": 79,
"data": {"name": "bars"},
"transform": [{"filter": "datum.p == 'a'"}],
"layer": [
{"transform": [{"filter": "datum.g == 'N'"}], "mark": {"type": "bar", "width": 7, "color": "#000000"},
"encoding": {"x": {"field": "f", "type": "quantitative", "scale": {"type": "log", "domain": [0.5, 8]}, "axis": null}, "y": {"field": "v", "type": "quantitative", "scale": {"domain": [-100, 100]}, "axis": {"orient": "left", "values": [-100, -50, 0, 50, 100], "labelExpr": "abs(datum.value) == 100 ? '100%' : datum.value == 0 ? '0%' : ''", "title": "% in mean", "tickSize": -5, "labelPadding": 5, "minExtent": 38, "maxExtent": 38, "titlePadding": 4}}}},
{"transform": [{"filter": "datum.g == 'T'"}], "mark": {"type": "bar", "width": 7, "color": "#cf2222", "stroke": "#331111", "strokeWidth": 0.6},
"encoding": {"x": {"field": "f", "type": "quantitative", "scale": {"type": "log", "domain": [0.5, 8]}, "axis": null}, "y": {"field": "v", "type": "quantitative", "scale": {"domain": [-100, 100]}, "axis": null}}},
{"mark": {"type": "rule", "color": "#333333", "strokeWidth": 1},
"encoding": {"y": {"datum": 0, "type": "quantitative", "scale": {"domain": [-100, 100]}, "axis": {"orient": "right", "values": [-100, -50, 0, 50, 100], "labels": false, "title": null, "tickSize": -5, "minExtent": 0, "maxExtent": 0}}}}
],
"resolve": {"axis": {"y": "independent"}}
}
]
},
{
"spacing": 0, "bounds": "flush",
"vconcat": [
{
"width": 470, "height": 306,
"data": {"name": "main"},
"transform": [{"filter": "datum.p == 'b'"}],
"title": {"text": "b) L₂ = 40 dB SPL", "offset": -37},
"encoding": {
"x": {"field": "f", "type": "quantitative", "scale": {"type": "log", "domain": [0.5, 8]}, "axis": {"orient": "top", "values": [1, 2, 4], "labels": false, "title": null, "tickSize": -5, "minExtent": 0, "maxExtent": 0}}
},
"layer": [
{"mark": {"type": "errorbar", "ticks": {"size": 9, "thickness": 2.2}, "thickness": 2.2},
"encoding": {"y": {"field": "lo", "type": "quantitative", "scale": {"domain": [-20, 20]}, "axis": {"orient": "left", "values": [-15, -10, -5, 0, 5, 10, 15, 20], "labelExpr": "datum.value % 10 == 0 && datum.value > -20 ? '' + datum.value : ''", "title": "DP magnitude (dB SPL)", "tickSize": -5, "labelPadding": 8, "minExtent": 38, "maxExtent": 38, "titlePadding": 4}}, "y2": {"field": "hi"},
"color": {"field": "g", "type": "nominal", "scale": {"domain": ["N", "T"], "range": ["#000000", "#e8251f"]}, "legend": null}}},
{"mark": {"type": "line", "strokeWidth": 2},
"encoding": {"y": {"field": "m", "type": "quantitative", "scale": {"domain": [-20, 20]}, "axis": {"orient": "right", "values": [-15, -10, -5, 0, 5, 10, 15, 20], "labels": false, "title": null, "tickSize": -5, "minExtent": 0, "maxExtent": 0}},
"color": {"field": "g", "type": "nominal", "scale": {"domain": ["N", "T"], "range": ["#000000", "#e8251f"]}, "legend": null}}},
{"transform": [{"filter": "datum.g == 'N'"}], "mark": {"type": "point", "shape": "triangle-up", "size": 25, "strokeWidth": 1.3, "filled": false, "color": "#000000", "opacity": 1},
"encoding": {"y": {"field": "m", "type": "quantitative", "scale": {"domain": [-20, 20]}, "axis": null}}},
{"transform": [{"filter": "datum.g == 'T'"}], "mark": {"type": "point", "shape": "triangle-down", "size": 25, "strokeWidth": 1.3, "filled": false, "color": "#e8251f", "opacity": 1},
"encoding": {"y": {"field": "m", "type": "quantitative", "scale": {"domain": [-20, 20]}, "axis": null}}}
],
"resolve": {"axis": {"y": "independent"}}
},
{
"width": 470, "height": 77,
"data": {"name": "bars"},
"transform": [{"filter": "datum.p == 'b'"}],
"layer": [
{"transform": [{"filter": "datum.g == 'N'"}], "mark": {"type": "bar", "width": 7, "color": "#000000"},
"encoding": {"x": {"field": "f", "type": "quantitative", "scale": {"type": "log", "domain": [0.5, 8]}, "axis": null}, "y": {"field": "v", "type": "quantitative", "scale": {"domain": [-100, 100]}, "axis": {"orient": "left", "values": [-100, -50, 0, 50, 100], "labelExpr": "abs(datum.value) == 100 ? '100%' : datum.value == 0 ? '0%' : ''", "title": "% in mean", "tickSize": -5, "labelPadding": 5, "minExtent": 38, "maxExtent": 38, "titlePadding": 4}}}},
{"transform": [{"filter": "datum.g == 'T'"}], "mark": {"type": "bar", "width": 7, "color": "#cf2222", "stroke": "#331111", "strokeWidth": 0.6},
"encoding": {"x": {"field": "f", "type": "quantitative", "scale": {"type": "log", "domain": [0.5, 8]}, "axis": null}, "y": {"field": "v", "type": "quantitative", "scale": {"domain": [-100, 100]}, "axis": null}}},
{"mark": {"type": "rule", "color": "#333333", "strokeWidth": 1},
"encoding": {"y": {"datum": 0, "type": "quantitative", "scale": {"domain": [-100, 100]}, "axis": {"orient": "right", "values": [-100, -50, 0, 50, 100], "labels": false, "title": null, "tickSize": -5, "minExtent": 0, "maxExtent": 0}}}}
],
"resolve": {"axis": {"y": "independent"}}
}
]
},
{
"spacing": 0, "bounds": "flush",
"vconcat": [
{
"width": 470, "height": 304,
"data": {"name": "main"},
"transform": [{"filter": "datum.p == 'c'"}],
"title": {"text": "c) Slope between L₂ = 60 & 40 dB SPL", "offset": -30},
"encoding": {
"x": {"field": "f", "type": "quantitative", "scale": {"type": "log", "domain": [0.5, 8]}, "axis": {"orient": "top", "values": [1, 2, 4], "labels": false, "title": null, "tickSize": -5, "minExtent": 0, "maxExtent": 0}}
},
"layer": [
{"mark": {"type": "errorbar", "ticks": {"size": 9, "thickness": 2.2}, "thickness": 2.2},
"encoding": {"y": {"field": "lo", "type": "quantitative", "scale": {"domain": [-0.186, 0.851]}, "axis": {"orient": "left", "values": [0, 0.25, 0.5, 0.75], "labelExpr": "datum.value == 0.25 ? '0.25' : datum.value == 0.5 ? '.5' : datum.value == 0.75 ? '.75' : '0'", "title": "DP slope (dB SPL)", "tickSize": -5, "labelPadding": 8, "minExtent": 38, "maxExtent": 38, "titlePadding": 4}}, "y2": {"field": "hi"},
"color": {"field": "g", "type": "nominal", "scale": {"domain": ["N", "T"], "range": ["#000000", "#e8251f"]}, "legend": null}}},
{"mark": {"type": "line", "strokeWidth": 2},
"encoding": {"y": {"field": "m", "type": "quantitative", "scale": {"domain": [-0.186, 0.851]}, "axis": {"orient": "right", "values": [0, 0.25, 0.5, 0.75], "labels": false, "title": null, "tickSize": -5, "minExtent": 0, "maxExtent": 0}},
"color": {"field": "g", "type": "nominal", "scale": {"domain": ["N", "T"], "range": ["#000000", "#e8251f"]}, "legend": null}}},
{"transform": [{"filter": "datum.g == 'N'"}], "mark": {"type": "point", "shape": "triangle-up", "size": 25, "strokeWidth": 1.3, "filled": false, "color": "#000000", "opacity": 1},
"encoding": {"y": {"field": "m", "type": "quantitative", "scale": {"domain": [-0.186, 0.851]}, "axis": null}}},
{"transform": [{"filter": "datum.g == 'T'"}], "mark": {"type": "point", "shape": "triangle-down", "size": 25, "strokeWidth": 1.3, "filled": false, "color": "#e8251f", "opacity": 1},
"encoding": {"y": {"field": "m", "type": "quantitative", "scale": {"domain": [-0.186, 0.851]}, "axis": null}}}
],
"resolve": {"axis": {"y": "independent"}}
},
{
"width": 470, "height": 78,
"data": {"name": "bars"},
"transform": [{"filter": "datum.p == 'c'"}],
"layer": [
{"transform": [{"filter": "datum.g == 'N'"}], "mark": {"type": "bar", "width": 7, "color": "#000000"},
"encoding": {"x": {"field": "f", "type": "quantitative", "scale": {"type": "log", "domain": [0.5, 8]}, "axis": {"orient": "bottom", "values": [0.5, 0.75, 1, 1.5, 2, 4, 6, 8], "labelExpr": "datum.value == 0.5 ? '.5' : datum.value == 0.75 ? '.75' : '' + datum.value", "title": "f₂ (kHz)", "tickSize": -5, "labelPadding": 14, "titlePadding": 2, "labelFlush": false}}, "y": {"field": "v", "type": "quantitative", "scale": {"domain": [-100, 100]}, "axis": {"orient": "left", "values": [-100, -50, 0, 50, 100], "labelExpr": "abs(datum.value) == 100 ? '100%' : datum.value == 0 ? '0%' : ''", "title": "% in mean", "tickSize": -5, "labelPadding": 5, "minExtent": 38, "maxExtent": 38, "titlePadding": 4}}}},
{"transform": [{"filter": "datum.g == 'T'"}], "mark": {"type": "bar", "width": 7, "color": "#cf2222", "stroke": "#331111", "strokeWidth": 0.6},
"encoding": {"x": {"field": "f", "type": "quantitative", "scale": {"type": "log", "domain": [0.5, 8]}}, "y": {"field": "v", "type": "quantitative", "scale": {"domain": [-100, 100]}, "axis": null}}},
{"mark": {"type": "rule", "color": "#333333", "strokeWidth": 1},
"encoding": {"y": {"datum": 0, "type": "quantitative", "scale": {"domain": [-100, 100]}, "axis": {"orient": "right", "values": [-100, -50, 0, 50, 100], "labels": false, "title": null, "tickSize": -5, "minExtent": 0, "maxExtent": 0}}}}
],
"resolve": {"axis": {"y": "independent"}}
}
]
}
],
"config": {
"view": {"stroke": "#000000", "strokeWidth": 1.2},
"font": "Liberation Sans",
"axis": {"labelFont": "Liberation Sans", "labelFontSize": 16, "labelColor": "#000000", "titleFont": "Liberation Sans", "titleFontSize": 17, "titleFontWeight": "normal", "titleColor": "#000000", "tickColor": "#000000", "tickWidth": 1, "grid": false, "domain": false},
"title": {"font": "Liberation Sans", "fontSize": 17, "fontWeight": "normal", "anchor": "start", "frame": "group", "offset": -26, "dx": 8, "color": "#000000", "baseline": "alphabetic"}
}
}
